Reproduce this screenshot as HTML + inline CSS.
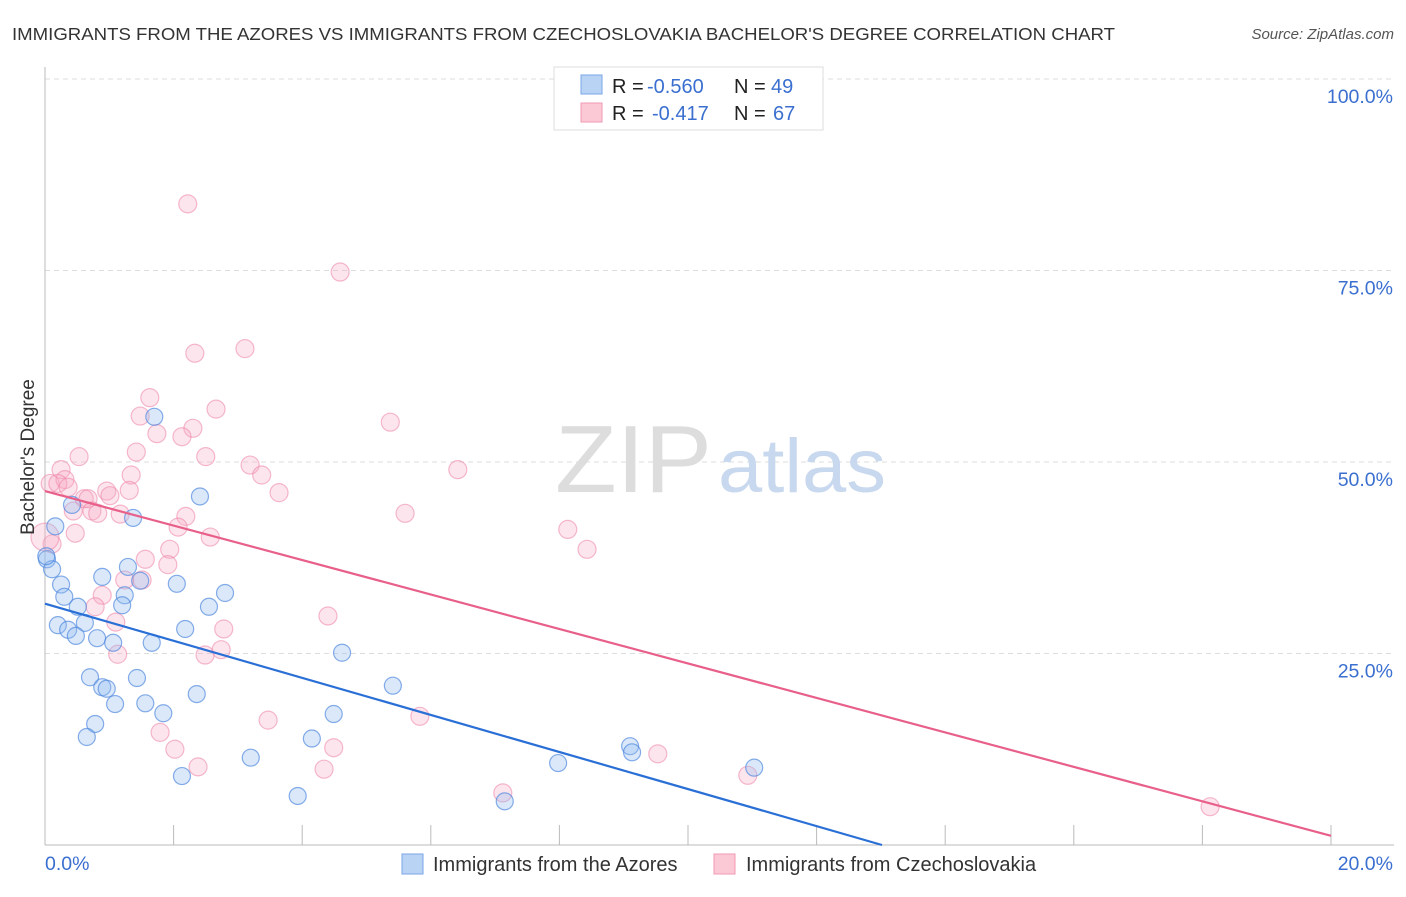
<!DOCTYPE html>
<html><head><meta charset="utf-8"><style>
body{margin:0;background:#fff;font-family:"Liberation Sans",sans-serif;}
svg text{font-family:"Liberation Sans",sans-serif;}
</style></head><body>
<svg id="chart" width="1406" height="892">
<text x="12" y="40" font-size="17.5" fill="#333" textLength="1103" lengthAdjust="spacingAndGlyphs">IMMIGRANTS FROM THE AZORES VS IMMIGRANTS FROM CZECHOSLOVAKIA BACHELOR'S DEGREE CORRELATION CHART</text>
<text x="1394" y="39" font-size="15" fill="#555" font-style="italic" text-anchor="end">Source: ZipAtlas.com</text>
<g id="grid"></g>
<g id="axes"></g>
<text x="555" y="492" font-size="96" fill="#ddd" font-family="Liberation Serif" textLength="157" lengthAdjust="spacingAndGlyphs">ZIP</text>
<text x="718" y="492" font-size="76" fill="#c8d8ee" textLength="168" lengthAdjust="spacingAndGlyphs">atlas</text>
<g id="pts"></g>
<g id="lines"></g>
<text transform="translate(34,457) rotate(-90)" font-size="19" fill="#333" text-anchor="middle">Bachelor's Degree</text>
<g>
<rect x="554" y="67" width="269" height="63" fill="#fff" stroke="#ddd"/>
<rect x="581" y="75" width="21" height="19" fill="#b9d3f5" stroke="#7aa6e6"/>
<rect x="581" y="103" width="21" height="19" fill="#fbc8d6" stroke="#f09ab3"/>
<text x="612" y="93" font-size="20" fill="#222">R = <tspan x="647" fill="#3a6fd0">-0.560</tspan><tspan x="734">N = </tspan><tspan x="771" fill="#3a6fd0">49</tspan></text>
<text x="612" y="120" font-size="20" fill="#222">R = <tspan x="652" fill="#3a6fd0">-0.417</tspan><tspan x="734">N = </tspan><tspan x="773" fill="#3a6fd0">67</tspan></text>
</g>
<g>
<rect x="402" y="854" width="21" height="20" fill="#b9d3f5" stroke="#7aa6e6"/>
<text x="433" y="871" font-size="20" fill="#333">Immigrants from the Azores</text>
<rect x="714" y="854" width="21" height="20" fill="#fbc8d6" stroke="#f09ab3"/>
<text x="746" y="871" font-size="20" fill="#333">Immigrants from Czechoslovakia</text>
</g>
</svg>
<script>
const blueX=[1.70,2.41,1.37,0.16,0.42,0.03,0.11,1.29,0.89,1.48,0.25,2.05,2.80,0.30,1.24,0.51,1.20,2.55,0.20,0.62,0.36,0.48,0.81,1.06,1.66,2.18,4.62,0.70,1.43,0.89,0.96,1.09,1.56,2.36,5.41,1.84,4.49,0.78,0.65,4.15,3.20,2.13,3.93,7.98,9.10,9.13,11.03,7.15,0.02];
const blueY=[55.9,45.5,42.7,41.6,44.4,37.3,36.0,36.3,35.0,34.5,34.0,34.1,32.9,32.4,32.6,31.1,31.3,31.1,28.7,29.0,28.1,27.3,27.0,26.4,26.4,28.2,25.1,21.9,21.8,20.6,20.4,18.4,18.5,19.7,20.8,17.2,17.1,15.8,14.1,13.9,11.4,9.0,6.4,10.7,12.9,12.1,10.1,5.7,37.7];
const pinkX=[2.22,4.59,2.33,3.11,1.63,1.48,2.66,5.37,1.74,2.30,2.13,1.42,2.50,3.19,0.53,0.25,1.34,3.37,6.42,0.08,0.31,0.20,0.36,0.96,1.31,3.64,0.61,0.67,1.01,0.44,0.73,0.82,1.17,2.19,5.60,2.07,0.47,2.57,8.13,8.43,0.11,1.94,1.56,1.91,1.24,1.51,0.89,0.78,4.40,2.78,1.10,1.13,2.49,2.74,3.47,5.83,1.79,2.02,4.49,9.53,2.38,4.34,10.93,7.12,18.12,0.0];
const pinkY=[83.7,74.8,64.2,64.8,58.4,56.0,56.9,55.2,53.7,54.4,53.3,51.3,50.7,49.6,50.7,49.0,48.3,48.3,49.0,47.2,47.7,47.2,46.7,46.2,46.3,46.0,45.2,45.2,45.6,43.6,43.6,43.3,43.2,42.9,43.3,41.5,40.7,40.2,41.2,38.6,39.3,38.6,37.3,36.6,34.6,34.6,32.6,31.1,29.9,28.2,29.1,24.9,24.8,25.5,16.3,16.8,14.7,12.5,12.7,11.9,10.2,9.9,9.1,6.8,5.0,40.2];
const blueTrend=[31.5,-2.42];
const pinkTrend=[46.2,-2.25];
const xTicks=[0,2,4,6,8,10,12,14,16,18,20];
const yTicks=[25,50,75,100];
const yLabels=["25.0%","50.0%","75.0%","100.0%"];
const NS="http://www.w3.org/2000/svg";
const sx=v=>45+v*64.3, sy=v=>845-v*7.66;
function mk(tag,attrs,parent){const e=document.createElementNS(NS,tag);for(const k in attrs)e.setAttribute(k,attrs[k]);document.getElementById(parent).appendChild(e);return e;}
yTicks.forEach((t,i)=>{
 const l=mk('line',{x1:45,x2:1394,y1:sy(t),y2:sy(t),stroke:'#ddd','stroke-dasharray':'5,4'},'grid');
 
 
 const tx=mk('text',{x:1393,y:sy(t)+24,'font-size':19.5,fill:'#3a6fd0','text-anchor':'end'},'grid');
 tx.textContent=yLabels[i];
 
 
});
const ya=mk('line',{x1:45,x2:45,y1:67,y2:845,stroke:'#bbb'},'axes');


const xa=mk('line',{x1:45,x2:1394,y1:845,y2:845,stroke:'#bbb'},'axes');


xTicks.forEach(t=>{
 const l=mk('line',{x1:sx(t),x2:sx(t),y1:825,y2:845,stroke:'#bbb'},'axes');
 
 
});
const xl0=mk('text',{x:45,y:870,'font-size':19.5,fill:'#3a6fd0'},'axes');xl0.textContent=xTicks[0].toFixed(1)+'%';


const xl1=mk('text',{x:1393,y:870,'font-size':19.5,fill:'#3a6fd0','text-anchor':'end'},'axes');xl1.textContent=xTicks[xTicks.length-1].toFixed(1)+'%';


pinkX.forEach((x,i)=>{
 const c=mk('circle',{cx:sx(x),cy:sy(pinkY[i]),r:i===pinkX.length-1?14:9,fill:'rgba(248,170,195,0.3)',stroke:'rgba(236,130,165,0.55)','stroke-width':1.2},'pts');
 
 
});
blueX.forEach((x,i)=>{
 const c=mk('circle',{cx:sx(x),cy:sy(blueY[i]),r:8.5,fill:'rgba(150,190,240,0.35)',stroke:'rgba(70,130,220,0.65)','stroke-width':1.2},'pts');
 
 
});
const bEnd=-blueTrend[0]/blueTrend[1];
const bl=mk('line',{x1:sx(0),y1:sy(blueTrend[0]),x2:sx(bEnd),y2:sy(0),stroke:'#2a6fd6','stroke-width':2.2},'lines');


const pl=mk('line',{x1:sx(0),y1:sy(pinkTrend[0]),x2:sx(20),y2:sy(pinkTrend[0]+pinkTrend[1]*20),stroke:'#e8608a','stroke-width':2.2},'lines');


</script>
</body></html>
